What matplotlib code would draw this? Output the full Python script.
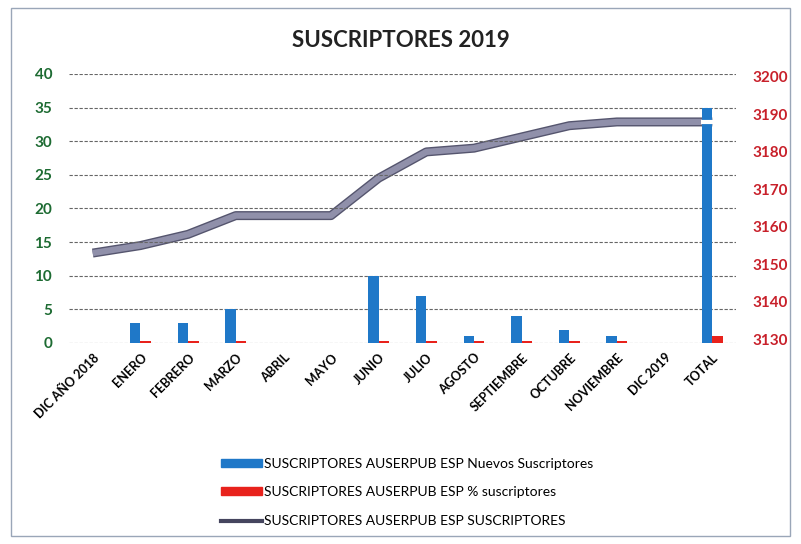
import numpy as np
import matplotlib.pyplot as plt
from matplotlib.patches import Rectangle
from matplotlib.lines import Line2D
from matplotlib.patches import Patch

plt.rcParams['font.family'] = ['Lato', 'DejaVu Sans']

meses = ['DIC AÑO 2018', 'ENERO', 'FEBRERO', 'MARZO', 'ABRIL', 'MAYO', 'JUNIO',
         'JULIO', 'AGOSTO', 'SEPTIEMBRE', 'OCTUBRE', 'NOVIEMBRE', 'DIC 2019', 'TOTAL']
nuevos = [0, 3, 3, 5, 0, 0, 10, 7, 1, 4, 2, 1, 0, 35]
porcentaje = [0, 0.3, 0.3, 0.3, 0, 0, 0.3, 0.3, 0.3, 0.3, 0.3, 0.3, 0, 1.1]
suscriptores = [3153, 3155, 3158, 3163, 3163, 3163, 3173, 3180, 3181, 3184, 3187, 3188, 3188, 3188]

x = np.arange(len(meses))
w = 0.22

fig = plt.figure(figsize=(8.01, 5.44), dpi=100)
ax = fig.add_axes([0.086, 0.3695, 0.833, 0.4945])
ax2 = ax.twinx()
# bars above the line (the TOTAL bar hides the line in the original)
ax.set_zorder(2)
ax.patch.set_visible(False)

ax.bar(x - w / 2, nuevos, w, color='#1f78c8', zorder=3)
ax.bar(x + w / 2, porcentaje, w, color='#e8221c', zorder=3)
ax.set_xlim(-0.5, len(meses) - 0.5)
ax.set_ylim(0, 40)
ax.set_yticks(np.arange(0, 41, 5))
ax.grid(axis='y', color='#666666', linestyle=(0, (3, 1.5)), linewidth=0.8, zorder=0)
for s in ax.spines.values():
    s.set_visible(False)
ax.tick_params(length=0)
ax.tick_params(axis='y', pad=12, labelcolor='#1d6b32', labelsize=11)
for t in ax.get_yticklabels():
    t.set_fontweight('bold')
ax.set_xticks(x)
ax.set_xticklabels(meses, rotation=45, ha='right', rotation_mode='anchor',
                   fontsize=9, fontweight='bold')
ax.tick_params(axis='x', pad=6)

ax2.plot(x, suscriptores, color='#55556e', linewidth=6.5, solid_capstyle='butt')
ax2.plot(x, suscriptores, color='#9090aa', linewidth=4.5, solid_capstyle='butt')
ax2.set_ylim(3129, 3200.8)
ax2.set_yticks(np.arange(3130, 3201, 10))
for s in ax2.spines.values():
    s.set_visible(False)
ax2.tick_params(length=0, pad=12, labelcolor='#c8202a', labelsize=11)
for t in ax2.get_yticklabels():
    t.set_fontweight('bold')

# small white highlight where the line meets the TOTAL bar
ax.plot(x[-1:] - w / 2, suscriptores[-1:], marker='_', markersize=9, mew=3,
        color='white', zorder=10, linestyle='none', transform=ax2.transData)

fig.text(0.5, 0.925, 'SUSCRIPTORES 2019', ha='center', va='center',
         fontsize=16, fontweight='bold', color='#222222')

handles = [Patch(color='#1f78c8'), Patch(color='#e8221c'),
           Line2D([], [], color='#45455e', linewidth=3)]
labels = ['SUSCRIPTORES AUSERPUB ESP Nuevos Suscriptores',
          'SUSCRIPTORES AUSERPUB ESP % suscriptores',
          'SUSCRIPTORES AUSERPUB ESP SUSCRIPTORES']
fig.legend(handles, labels, loc='center left', bbox_to_anchor=(0.26, 0.095),
           frameon=False, fontsize=10, handlelength=3, handleheight=0.5,
           labelspacing=1.2, handletextpad=0.1)

fig.patches.append(Rectangle((0.014, 0.015), 0.972, 0.97, transform=fig.transFigure,
                             fill=False, edgecolor='#9aa6b8', linewidth=1))

fig.savefig('out.png', dpi=100)
